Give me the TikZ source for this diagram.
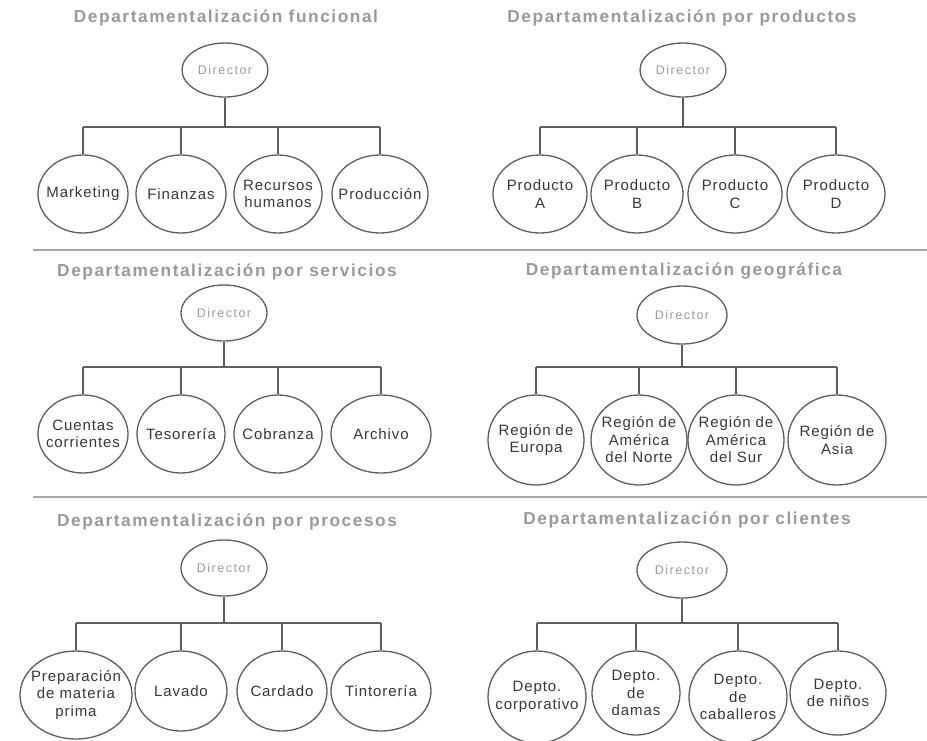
\documentclass[tikz,border=0pt]{standalone}
\usepackage{fontspec}
\setmainfont{Liberation Sans}
\newfontfamily\titlefont[LetterSpace=9]{Liberation Sans}
\newfontfamily\childfont[LetterSpace=6]{Liberation Sans}
\newfontfamily\dirfont[LetterSpace=12]{Liberation Sans}
\usetikzlibrary{shapes.geometric}
\definecolor{titlegray}{HTML}{9A9A9A}
\definecolor{dirgray}{HTML}{9C9C9C}
\definecolor{textdark}{HTML}{383838}
\definecolor{linegray}{HTML}{5E5E5E}
\definecolor{sepgray}{HTML}{A8A8A8}
\tikzset{
  paneltitle/.style={font=\titlefont\bfseries\fontsize{17.3}{20}\selectfont, text=titlegray, inner sep=0pt},
  dirnode/.style={ellipse, draw=linegray, line width=1.3pt, minimum width=86pt, minimum height=54pt, inner xsep=-14pt, inner ysep=-4pt, font=\dirfont\fontsize{12.5}{14}\selectfont, text=dirgray},
  unit/.style={ellipse, draw=linegray, line width=1.3pt, minimum width=90pt, minimum height=78pt, inner xsep=-18pt, inner ysep=-8pt, align=center, font=\childfont\fontsize{15}{17.5}\selectfont, text=textdark},
  link/.style={draw=linegray, line width=1.3pt},
  sepline/.style={draw=sepgray, line width=2pt}
}
\begin{document}
\begin{tikzpicture}[x=1pt,y=-1pt]
\useasboundingbox[fill=white] (0,0) rectangle (927,740);

% separators
\coordinate (s1a) at (33,250); \coordinate (s1b) at (927,250);
\coordinate (s2a) at (33,497); \coordinate (s2b) at (927,497);
\draw[sepline] (s1a) -- (s1b);
\draw[sepline] (s2a) -- (s2b);

% ---------- Panel 1 ----------
\node[paneltitle] (t1) at (226,18) {Departamentalización funcional};
\node[dirnode] (d1) at (225,70) {Director};
\coordinate (b1) at (225,127);
\node[unit] (c11) at (83,194) {Marketing};
\node[unit] (c12) at (181,194) {Finanzas};
\node[unit, minimum width=88pt] (c13) at (278,194) {Recursos\\humanos};
\node[unit, minimum width=96pt] (c14) at (380,194) {Producción};
\draw[link] (d1.south) -- (b1);
\draw[link] (c11.north |- b1) -- (c14.north |- b1);
\foreach \c in {c11,c12,c13,c14} \draw[link] (\c.north) -- (\c.north |- b1);

% ---------- Panel 2 ----------
\node[paneltitle] (t2) at (682,18) {Departamentalización por productos};
\node[dirnode] (d2) at (683,70) {Director};
\coordinate (b2) at (683,127);
\node[unit, minimum width=94pt] (c21) at (540,194) {Producto\\A};
\node[unit, minimum width=92pt] (c22) at (637,194) {Producto\\B};
\node[unit, minimum width=94pt] (c23) at (735,194) {Producto\\C};
\node[unit, minimum width=98pt] (c24) at (836,194) {Producto\\D};
\draw[link] (d2.south) -- (b2);
\draw[link] (c21.north |- b2) -- (c24.north |- b2);
\foreach \c in {c21,c22,c23,c24} \draw[link] (\c.north) -- (\c.north |- b2);

% ---------- Panel 3 ----------
\node[paneltitle] (t3) at (227,272) {Departamentalización por servicios};
\node[dirnode, minimum height=56pt] (d3) at (224,313) {Director};
\coordinate (b3) at (224,367);
\node[unit] (c31) at (83,434) {Cuentas\\corrientes};
\node[unit, minimum width=88pt] (c32) at (181,434) {Tesorería};
\node[unit, minimum width=88pt] (c33) at (278,434) {Cobranza};
\node[unit, minimum width=100pt] (c34) at (381,434) {Archivo};
\draw[link] (d3.south) -- (b3);
\draw[link] (c31.north |- b3) -- (c34.north |- b3);
\foreach \c in {c31,c32,c33,c34} \draw[link] (\c.north) -- (\c.north |- b3);

% ---------- Panel 4 ----------
\node[paneltitle] (t4) at (684,271) {Departamentalización geográfica};
\node[dirnode, minimum width=90pt, minimum height=58pt] (d4) at (682,315) {Director};
\coordinate (b4) at (682,367);
\node[unit, minimum width=96pt, minimum height=90pt] (c41) at (536,440) {Región de\\Europa};
\node[unit, minimum width=96pt, minimum height=90pt] (c42) at (639,440) {Región de\\América\\del Norte};
\node[unit, minimum width=96pt, minimum height=90pt] (c43) at (736,440) {Región de\\América\\del Sur};
\node[unit, minimum width=98pt, minimum height=90pt] (c44) at (837,440) {Región de\\Asia};
\draw[link] (d4.south) -- (b4);
\draw[link] (c41.north |- b4) -- (c44.north |- b4);
\foreach \c in {c41,c42,c43,c44} \draw[link] (\c.north) -- (\c.north |- b4);

% ---------- Panel 5 ----------
\node[paneltitle] (t5) at (227,522) {Departamentalización por procesos};
\node[dirnode, minimum height=56pt] (d5) at (224,568) {Director};
\coordinate (b5) at (224,623);
\node[unit, minimum width=112pt, minimum height=88pt] (c51) at (76,695) {Preparación\\de materia\\prima};
\node[unit, minimum width=92pt, minimum height=80pt] (c52) at (181,691) {Lavado};
\node[unit, minimum width=90pt, minimum height=80pt] (c53) at (282,691) {Cardado};
\node[unit, minimum width=100pt, minimum height=80pt] (c54) at (381,691) {Tintorería};
\draw[link] (d5.south) -- (b5);
\draw[link] (c51.north |- b5) -- (c54.north |- b5);
\foreach \c in {c51,c52,c53,c54} \draw[link] (\c.north) -- (\c.north |- b5);

% ---------- Panel 6 ----------
\node[paneltitle] (t6) at (687,520) {Departamentalización por clientes};
\node[dirnode, minimum width=90pt, minimum height=56pt] (d6) at (682,570) {Director};
\coordinate (b6) at (682,623);
\node[unit, minimum width=98pt, minimum height=92pt] (c61) at (537,697) {Depto.\\corporativo};
\node[unit, minimum width=88pt, minimum height=84pt] (c62) at (636,693) {Depto.\\de\\damas};
\node[unit, minimum width=98pt, minimum height=92pt] (c63) at (738,697) {Depto.\\de\\caballeros};
\node[unit, minimum width=96pt, minimum height=84pt] (c64) at (838,693) {Depto.\\de niños};
\draw[link] (d6.south) -- (b6);
\draw[link] (c61.north |- b6) -- (c64.north |- b6);
\foreach \c in {c61,c62,c63,c64} \draw[link] (\c.north) -- (\c.north |- b6);
\end{tikzpicture}
\end{document}
